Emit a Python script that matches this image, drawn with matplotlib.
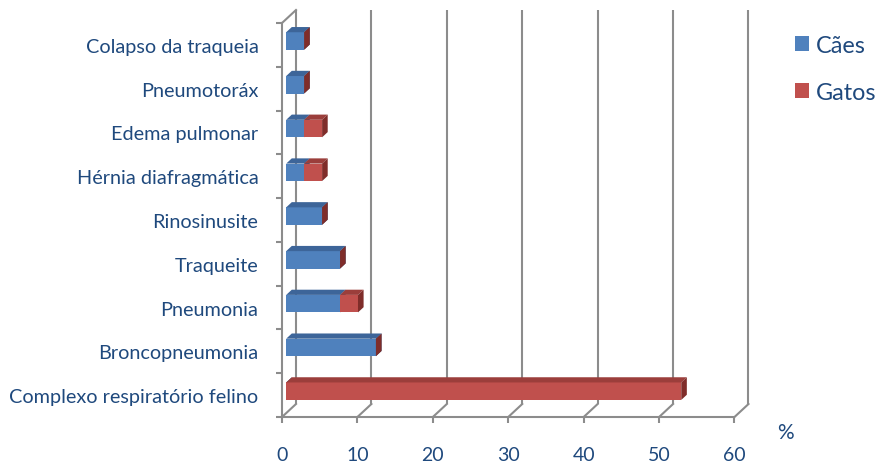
import matplotlib
matplotlib.use("Agg")
import matplotlib.pyplot as plt
from matplotlib.patches import Polygon
import numpy as np

# Respiratory conditions (bottom to top) and share of cases, %
categories = [
    "Complexo respiratório felino",
    "Broncopneumonia",
    "Pneumonia",
    "Traqueite",
    "Rinosinusite",
    "Hérnia diafragmática",
    "Edema pulmonar",
    "Pneumotoráx",
    "Colapso da traqueia",
]
caes = [0.0, 11.90, 7.14, 7.14, 4.76, 2.38, 2.38, 2.38, 2.38]
gatos = [52.38, 0.0, 2.38, 0.0, 0.0, 2.38, 2.38, 0.0, 0.0]
series_names = ["Cães", "Gatos"]
x_ticks = [0, 10, 20, 30, 40, 50, 60]

TEXT = "#1F497D"
GRID = "#8C8C8C"
FRONT = {"Cães": "#4F81BD", "Gatos": "#C0504D"}
TOP = {"Cães": "#3D6599", "Gatos": "#9B3E3B"}
SIDE = {"Cães": "#2F5280", "Gatos": "#7F2D2A"}

plt.rcParams["font.family"] = ["Lato", "DejaVu Sans"]

W, H = 881, 464
fig = plt.figure(figsize=(W / 100, H / 100), dpi=100)
# front plane of the plot box
x0p, x1p, ytop, ybot = 282, 734.5, 24, 418
ax = fig.add_axes([x0p / W, 1 - ybot / H, (x1p - x0p) / W, (ybot - ytop) / H])
n = len(categories)
ax.set_xlim(0, 60)
ax.set_ylim(-0.5, n - 0.5)
for s in ax.spines.values():
    s.set_visible(False)
ax.patch.set_visible(False)

# depth of the 3-D box, in data units
px_x = (x1p - x0p) / 60.0
px_y = (ybot - ytop) / n
DX = 14.0 / px_x
DY = 13.0 / px_y
lw = 1.5

# back wall gridlines and floor diagonals
for v in x_ticks:
    ax.plot([v + DX, v + DX], [-0.5 + DY, n - 0.5 + DY], color=GRID, lw=lw,
            clip_on=False, zorder=1, solid_capstyle="butt")
    ax.plot([v, v + DX], [-0.5, -0.5 + DY], color=GRID, lw=lw, clip_on=False, zorder=1)
# left wall front edge and top diagonal
ax.plot([0, 0], [-0.5, n - 0.5], color=GRID, lw=lw, clip_on=False, zorder=1)
ax.plot([0, DX], [n - 0.5, n - 0.5 + DY], color=GRID, lw=lw, clip_on=False, zorder=1)
# floor front edge
ax.plot([0, 60], [-0.5, -0.5], color=GRID, lw=lw, clip_on=False, zorder=1)

# 3-D stacked bars
h = 0.4
d0, d1 = 0.3, 0.7
y = np.arange(n)
left = np.zeros(n)
handles = []
for name, vals in zip(series_names, [caes, gatos]):
    vals = np.asarray(vals)
    bars = ax.barh(y + d0 * DY, vals, left=left + d0 * DX, height=h,
                   color=FRONT[name], edgecolor="none", label=name, zorder=3)
    handles.append(bars)
    for i in range(n):
        xa = left[i]
        xb = left[i] + vals[i]
        yb = y[i] - h / 2
        yt = y[i] + h / 2
        top = Polygon([(xa + d0 * DX, yt + d0 * DY), (xb + d0 * DX, yt + d0 * DY),
                       (xb + d1 * DX, yt + d1 * DY), (xa + d1 * DX, yt + d1 * DY)],
                      closed=True, facecolor=TOP[name], edgecolor="none",
                      zorder=3, clip_on=False)
        side = Polygon([(xb + d0 * DX, yb + d0 * DY), (xb + d1 * DX, yb + d1 * DY),
                        (xb + d1 * DX, yt + d1 * DY), (xb + d0 * DX, yt + d0 * DY)],
                       closed=True, facecolor=SIDE[name], edgecolor="none",
                       zorder=3, clip_on=False)
        ax.add_patch(top)
        ax.add_patch(side)
    left = left + vals

# axis ticks and labels
ax.set_xticks(x_ticks)
ax.set_xticklabels([str(t) for t in x_ticks], fontsize=14, color=TEXT)
ax.tick_params(axis="x", length=4, width=lw, color=GRID, pad=17)
ax.set_yticks(np.arange(-0.5, n, 1.0))
ax.set_yticklabels([])
ax.tick_params(axis="y", which="major", length=4, width=lw, color=GRID)
ax.set_yticks(y, minor=True)
ax.set_yticklabels(categories, minor=True, fontsize=14.3, color=TEXT)
ax.tick_params(axis="y", which="minor", length=0, pad=17)

fig.text(785 / W, 1 - 433 / H, "%", fontsize=15, color=TEXT, ha="center", va="center")

leg = fig.legend(handles=handles, labels=series_names, loc="upper left",
                 bbox_to_anchor=(795 / W, 1 - 36 / H), frameon=False,
                 borderpad=0, borderaxespad=0,
                 fontsize=16.8, labelcolor=TEXT, handlelength=0.6, handleheight=0.6,
                 handletextpad=0.3, labelspacing=1.1)

fig.savefig("out.png", dpi=100)
